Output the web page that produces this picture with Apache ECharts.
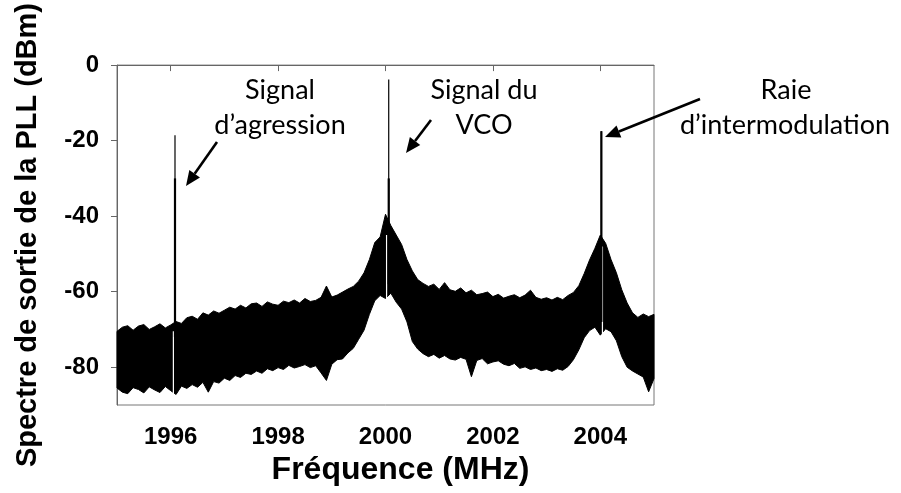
<!DOCTYPE html>
<html>
<head>
<meta charset="utf-8">
<script src="https://cdn.jsdelivr.net/npm/echarts@6/dist/echarts.min.js"></script>
<style>
  html, body { margin: 0; padding: 0; background: #fff; }
  #pllChart { width: 901px; height: 493px; }
</style>
</head>
<body>
<div id="pllChart"></div>
<script>
// frequency grid of the noise envelope (MHz)
const freqMHz = [
  1995.0, 1995.1, 1995.2, 1995.3, 1995.4, 1995.5, 1995.6, 1995.7, 1995.8, 1995.9,
  1996.0, 1996.1, 1996.2, 1996.3, 1996.4, 1996.5, 1996.6, 1996.7, 1996.8, 1996.9,
  1997.0, 1997.1, 1997.2, 1997.3, 1997.4, 1997.5, 1997.6, 1997.7, 1997.8, 1997.9,
  1998.0, 1998.1, 1998.2, 1998.3, 1998.4, 1998.5, 1998.6, 1998.7, 1998.8, 1998.9,
  1999.0, 1999.1, 1999.2, 1999.3, 1999.4, 1999.5, 1999.6, 1999.7, 1999.8, 1999.9,
  2000.0, 2000.1, 2000.2, 2000.3, 2000.4, 2000.5, 2000.6, 2000.7, 2000.8, 2000.9,
  2001.0, 2001.1, 2001.2, 2001.3, 2001.4, 2001.5, 2001.6, 2001.7, 2001.8, 2001.9,
  2002.0, 2002.1, 2002.2, 2002.3, 2002.4, 2002.5, 2002.6, 2002.7, 2002.8, 2002.9,
  2003.0, 2003.1, 2003.2, 2003.3, 2003.4, 2003.5, 2003.6, 2003.7, 2003.8, 2003.9,
  2004.0, 2004.1, 2004.2, 2004.3, 2004.4, 2004.5, 2004.6, 2004.7, 2004.8, 2004.9,
  2005.0
];

// top of the noise band (dBm)
const noiseTop = [
  -70.5, -69.4, -69.0, -70.2, -69.1, -68.7, -70.0, -69.3, -68.5, -69.6,
  -68.8, -67.9, -68.4, -66.9, -66.5, -67.3, -65.6, -66.2, -65.1, -65.7,
  -64.9, -64.1, -64.6, -63.6, -64.3, -63.2, -63.0, -63.9, -62.7, -63.3,
  -63.6, -62.5, -62.9, -62.2, -63.0, -61.8, -62.6, -62.3, -61.5, -58.5,
  -61.4, -60.9, -60.1, -59.3, -58.6, -57.2, -55.0, -51.5, -47.0, -45.5,
  -39.5, -42.5, -45.0, -47.5, -51.5, -54.5, -56.8, -57.8, -58.6, -58.0,
  -59.4, -57.6, -59.5, -59.9, -59.0, -60.3, -59.6, -60.8, -60.5, -60.1,
  -61.3, -60.7, -61.7, -61.2, -60.8, -61.6, -60.9, -59.6, -61.5, -62.0,
  -61.6, -62.2, -61.5, -62.1, -61.0, -60.2, -58.4, -55.2, -51.6, -48.5,
  -45.0, -47.2, -51.5, -55.0, -59.5, -63.0, -65.6, -66.8, -65.9, -66.6,
  -66.0
];

// bottom of the noise band (dBm)
const noiseBottom = [
  -85.5, -86.6, -87.0, -85.4, -85.9, -86.8, -85.2, -86.0, -86.7, -85.1,
  -86.2, -87.2, -85.0, -85.6, -84.6, -85.3, -84.0, -86.6, -83.8, -84.2,
  -82.9, -83.5, -82.2, -82.7, -81.6, -81.9, -81.0, -81.6, -80.4, -80.9,
  -80.1, -80.6, -79.5, -80.2, -79.8, -79.3, -80.1, -79.6, -81.5, -83.5,
  -79.2, -78.0, -77.8, -76.2, -75.0, -72.6, -70.2, -66.0, -62.4, -61.0,
  -61.8, -60.4, -62.8, -64.6, -68.0, -73.2, -75.2, -76.4, -77.2, -76.6,
  -77.6, -76.9, -77.8, -78.1, -77.4, -77.9, -82.5, -78.2, -77.7, -79.1,
  -78.6, -78.3, -79.2, -79.6, -79.0, -80.3, -79.9, -80.6, -80.2, -80.9,
  -80.6, -81.1, -80.4, -80.8, -79.8, -78.0, -75.4, -72.2, -70.3, -69.4,
  -71.5, -69.8, -70.6, -73.0, -77.2, -80.0, -81.0, -81.8, -82.6, -86.5,
  -83.0
];

// pure tones: frequency, top level, level where the line thickens
const spikeFreq = [1996.08, 2000.06, 2004.02];
const spikeTop = [-18.6, -3.8, -17.5];
const spikeThick = [-30, -30, -17.5];
const spikeBase = [-72, -58, -68];

// white notches inside the band next to each tone
const gapFreq = [1996.05, 2000.02, 2004.04];
const gapTop = [-70.5, -45, -48];
const gapBottom = [-89, -67, -75];

const xTicks = [1996, 1998, 2000, 2002, 2004];
const yTicks = [-80, -60, -40, -20, 0];

const labels = [
  ['Signal', 280, 90], ['d’agression', 280, 125],
  ['Signal du', 484, 90], ['VCO', 484, 125],
  ['Raie', 786, 90], ['d’intermodulation', 785, 125]
];
// arrows: start x, start y, tip x, tip y (px)
const arrows = [[217, 142, 186, 186], [431, 120, 406, 153], [700, 99, 605, 137]];

var chartDom = document.getElementById('pllChart');
var myChart = echarts.init(chartDom);

const segment = (f, a, b) => [[f, a], [f, b]];

const lineSeries = (name, data, color, width) => ({
  name: name,
  type: 'line',
  data: data,
  symbol: 'none',
  silent: true,
  lineStyle: { color: color, width: width }
});

let series = [
  {
    // noise band: polygon between top and bottom envelopes
    name: 'noise',
    type: 'custom',
    silent: true,
    data: [[2000, -60]],
    renderItem: function (params, api) {
      const top = freqMHz.map((f, i) => api.coord([f, noiseTop[i]]));
      const bottom = freqMHz.map((f, i) => api.coord([f, noiseBottom[i]])).reverse();
      return {
        type: 'polygon',
        shape: { points: top.concat(bottom) },
        style: { fill: '#000', stroke: '#000', lineWidth: 1 }
      };
    }
  }
];

gapFreq.forEach((f, i) => {
  series.push(lineSeries('gap' + i, segment(f, gapBottom[i], gapTop[i]), '#fff', 1.2));
});
spikeFreq.forEach((f, i) => {
  series.push(lineSeries('spike' + i, segment(f, spikeBase[i], spikeTop[i]), '#000', 1.2));
  series.push(lineSeries('spikeThick' + i, segment(f, spikeBase[i], spikeThick[i]), '#000', 2.2));
});

// annotation graphics
let graphic = [];
labels.forEach((l) => {
  graphic.push({
    type: 'text',
    x: l[1],
    y: l[2],
    style: {
      text: l[0],
      font: '27px Lato',
      fill: '#000',
      textAlign: 'center',
      textVerticalAlign: 'middle'
    }
  });
});
arrows.forEach((a) => {
  const dx = a[2] - a[0], dy = a[3] - a[1];
  const len = Math.sqrt(dx * dx + dy * dy);
  const ux = dx / len, uy = dy / len;
  const headLen = 15, headHalf = 6.5;
  const bx = a[2] - ux * headLen, by = a[3] - uy * headLen;
  graphic.push({
    type: 'line',
    shape: { x1: a[0], y1: a[1], x2: bx, y2: by },
    style: { stroke: '#000', lineWidth: 2.6 }
  });
  graphic.push({
    type: 'polygon',
    shape: {
      points: [
        [a[2], a[3]],
        [bx - uy * headHalf, by + ux * headHalf],
        [bx + uy * headHalf, by - ux * headHalf]
      ]
    },
    style: { fill: '#000' }
  });
});

const tickFont = { fontFamily: 'Liberation Sans', fontWeight: 'bold', fontSize: 24, color: '#000' };

var option = {
  animation: false,
  backgroundColor: '#fff',
  grid: {
    left: 117, right: 247, top: 57, bottom: 88,
    show: true, borderColor: '#777', borderWidth: 1
  },
  xAxis: {
    type: 'value',
    min: 1995,
    max: 2005,
    name: 'Fréquence (MHz)',
    nameLocation: 'middle',
    nameGap: 48,
    nameTextStyle: {
      fontFamily: 'Liberation Sans', fontWeight: 'bold', fontSize: 32, color: '#000',
      padding: [0, 0, 0, 30]
    },
    axisLine: { lineStyle: { color: '#666', width: 1 } },
    axisTick: { show: true, length: 6, customValues: xTicks, lineStyle: { color: '#666' } },
    axisLabel: Object.assign({
      margin: 20,
      customValues: xTicks,
      formatter: (v) => String(v)
    }, tickFont),
    splitLine: { show: false }
  },
  yAxis: {
    type: 'value',
    min: -90,
    max: 0,
    name: 'Spectre de sortie de la PLL (dBm)',
    nameLocation: 'middle',
    nameGap: 75,
    nameTextStyle: { fontFamily: 'Liberation Sans', fontWeight: 'bold', fontSize: 29, color: '#000' },
    axisLine: { show: true, lineStyle: { color: '#666', width: 1 } },
    axisTick: { show: true, length: 6, customValues: yTicks, lineStyle: { color: '#666' } },
    axisLabel: Object.assign({ margin: 18, customValues: yTicks }, tickFont),
    splitLine: { show: false }
  },
  series: series,
  graphic: graphic
};

myChart.setOption(option);
</script>
</body>
</html>
